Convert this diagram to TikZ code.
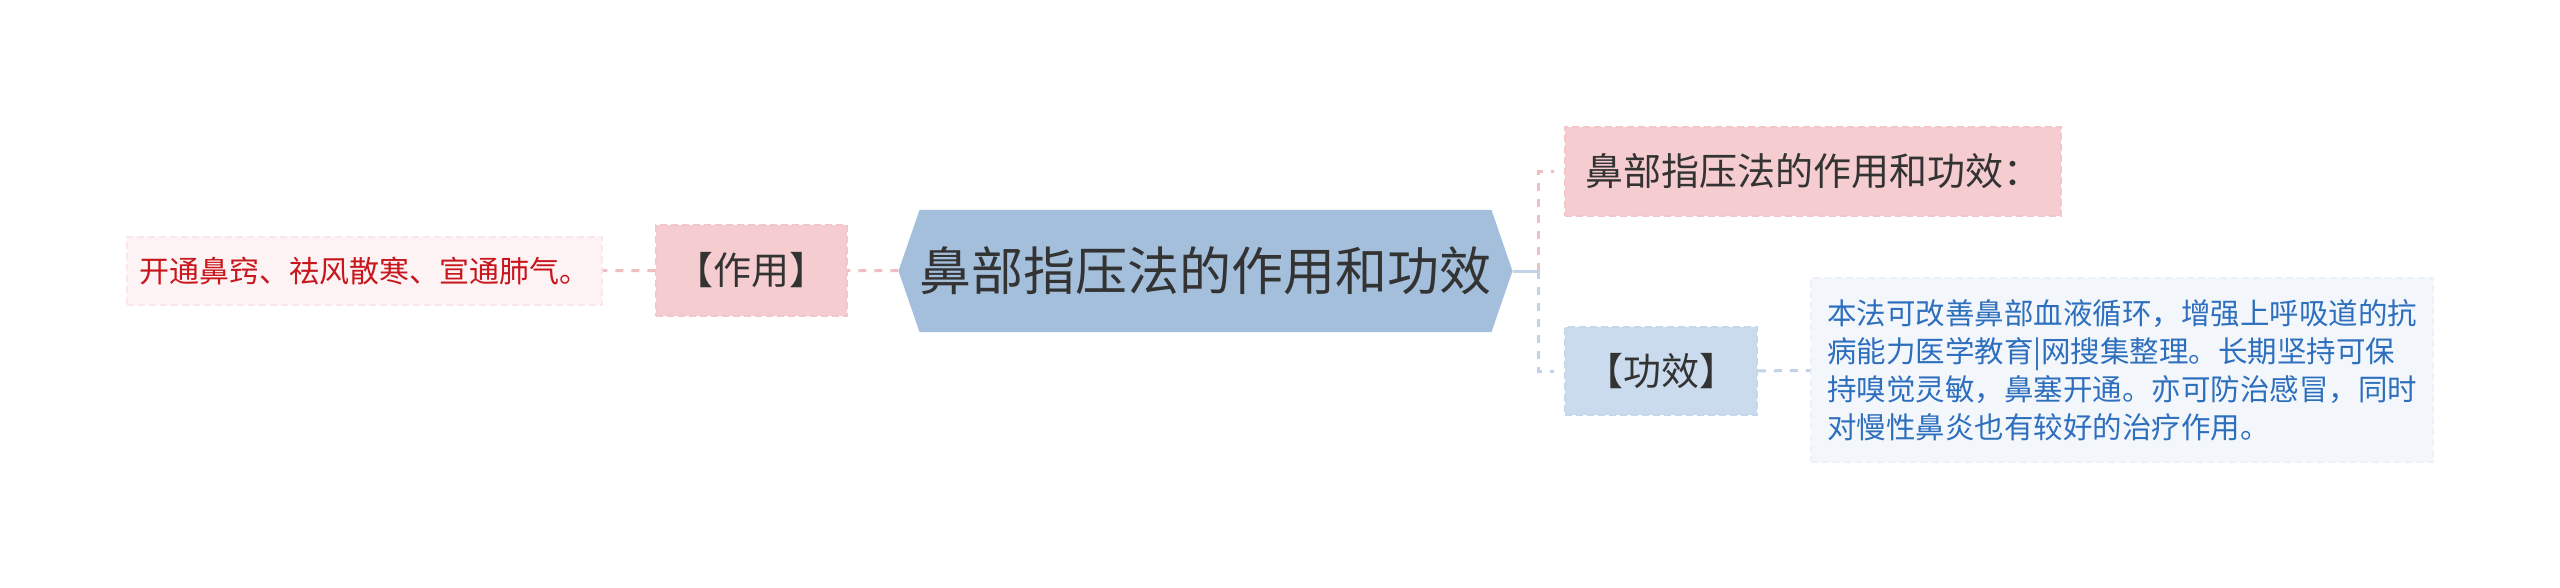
\documentclass[tikz,border=0pt]{standalone}
\usepackage{fontspec}
\setmainfont{Noto Sans CJK SC}
\usetikzlibrary{shapes.symbols}

\definecolor{rootblue}{HTML}{A3BFDB}
\definecolor{pinkfill}{HTML}{F5CCCF}
\definecolor{pinkline}{HTML}{EEBEC2}
\definecolor{bluefill}{HTML}{C9DBEC}
\definecolor{blueline}{HTML}{C0D3E8}
\definecolor{redleaf}{HTML}{FDF3F4}
\definecolor{blueleaf}{HTML}{F3F7FC}
\definecolor{redtext}{HTML}{C8161D}
\definecolor{bluetext}{HTML}{2E6FBD}
\definecolor{inkgray}{HTML}{333333}

\begin{document}
\begin{tikzpicture}[x=1pt,y=-1pt,
    box/.style={draw, line width=1.5pt, dash pattern=on 7pt off 4pt, inner sep=0pt, text=inkgray},
    link/.style={line width=3pt, dash pattern=on 8pt off 8pt}]

      \useasboundingbox (0,0) rectangle (2560,588);

      \node[signal, signal to=west and east, signal pointer angle=142, fill=rootblue,
            minimum width=575, minimum height=122, inner sep=0pt, text=inkgray,
            font=\fontsize{52}{62}\selectfont] (0) at (1205.5,271) {鼻部指压法的作用和功效};

      \begin{scope}[every node/.style={box, font=\fontsize{38}{45}\selectfont}]
        \node[fill=pinkfill, draw=pinkfill!60!pinkline, minimum width=191, minimum height=91] (1) at (751.5,270.5) {【作用】};
        \node[fill=pinkfill, draw=pinkfill!60!pinkline, minimum width=496, minimum height=89] (3) at (1813,171.5) {鼻部指压法的作用和功效：};
        \node[fill=bluefill, draw=bluefill!60!blueline, minimum width=192, minimum height=88] (4) at (1661,371) {【功效】};
      \end{scope}

      \begin{scope}[every node/.style={box, font=\fontsize{30}{38}\selectfont}]
        \node[fill=redleaf, draw=redleaf!70!pinkfill, text=redtext, minimum width=475, minimum height=68] (2) at (364.5,271) {开通鼻窍、祛风散寒、宣通肺气。};
        \node[fill=blueleaf, draw=blueleaf!80!bluefill, text=bluetext, minimum width=622, minimum height=184, align=left,
              font=\fontsize{29.5}{38}\selectfont] (5) at (2122,370)
          {本法可改善鼻部血液循环，增强上呼吸道的抗\\病能力医学教育|网搜集整理。长期坚持可保\\持嗅觉灵敏，鼻塞开通。亦可防治感冒，同时\\对慢性鼻炎也有较好的治疗作用。};
      \end{scope}

      \coordinate (f) at (1538,271);

      \path (0)  edge[link, draw=pinkline] (1);
      \path (1)  edge[link, draw=pinkline] (2);
      \path (0.east) edge[line width=3pt, draw=blueline] (f);
      \draw[link, draw=pinkline, shorten >=10pt] (f) |- (3);
      \draw[link, draw=blueline, shorten >=10pt] (f) |- (4);
      \path (4)  edge[link, draw=blueline] (5);

    \end{tikzpicture}
\end{document}
